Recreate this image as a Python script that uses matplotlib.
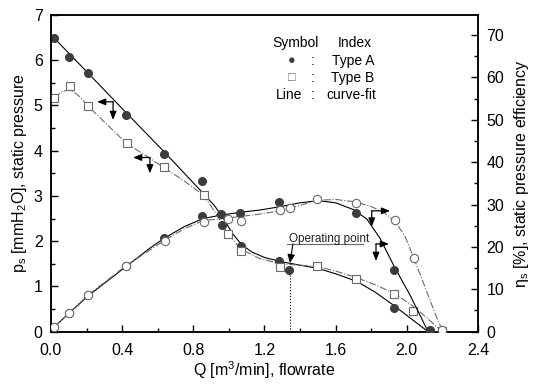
import matplotlib
matplotlib.use('Agg')
import matplotlib.pyplot as plt
from matplotlib.ticker import MultipleLocator

plt.rcParams['font.family'] = ['Liberation Sans', 'DejaVu Sans']
plt.rcParams['mathtext.default'] = 'regular'
plt.rcParams['font.size'] = 11

# measured points: static pressure [mmH2O]
qa_p = [0.019, 0.103, 0.21, 0.42, 0.635, 0.85, 0.96, 1.066, 1.283, 1.34, 1.926, 2.13]
pa = [6.50, 6.08, 5.71, 4.78, 3.92, 3.33, 2.36, 1.89, 1.57, 1.36, 0.52, 0.02]
qb_p = [0.019, 0.107, 0.21, 0.425, 0.637, 0.86, 0.993, 1.07, 1.287, 1.497, 1.714, 1.928, 2.037, 2.20]
pb = [5.17, 5.42, 4.99, 4.16, 3.65, 3.02, 2.16, 1.79, 1.44, 1.45, 1.16, 0.83, 0.46, 0.02]

# measured points: static pressure efficiency [%]
qa_e = [0.019, 0.103, 0.21, 0.42, 0.635, 0.85, 0.955, 1.062, 1.283, 1.714, 1.928, 2.13]
ea = [1.2, 4.3, 8.7, 15.5, 22.0, 27.4, 27.7, 27.9, 30.7, 27.9, 14.6, 0.4]
qb_e = [0.019, 0.103, 0.21, 0.42, 0.64, 0.86, 0.993, 1.07, 1.287, 1.343, 1.494, 1.714, 1.934, 2.04, 2.20]
eb = [1.2, 4.3, 8.7, 15.5, 21.5, 25.9, 26.5, 26.2, 28.7, 29.1, 31.2, 30.4, 26.3, 17.3, 0.3]

# curve-fit lines
fa_q = [0.02, 0.2, 0.42, 0.64, 0.85, 0.92, 0.97, 1.02, 1.072, 1.13, 1.2, 1.29, 1.4, 1.5, 1.6, 1.72, 1.82, 1.924, 2.02, 2.12]
fa_p = [6.48, 5.75, 4.85, 3.96, 3.08, 2.78, 2.50, 2.17, 1.92, 1.76, 1.64, 1.55, 1.47, 1.40, 1.28, 1.11, 0.88, 0.59, 0.30, 0.0]
fb_q = [0.02, 0.06, 0.107, 0.16, 0.21, 0.32, 0.425, 0.53, 0.637, 0.75, 0.856, 0.93, 0.988, 1.066, 1.17, 1.29, 1.4, 1.5, 1.6, 1.714, 1.82, 1.93, 2.04, 2.12, 2.2]
fb_p = [5.17, 5.30, 5.36, 5.20, 4.98, 4.56, 4.16, 3.90, 3.62, 3.33, 3.02, 2.60, 2.20, 1.83, 1.62, 1.50, 1.47, 1.44, 1.34, 1.20, 1.04, 0.85, 0.55, 0.28, 0.0]
fea_q = [0.02, 0.21, 0.42, 0.556, 0.635, 0.75, 0.856, 0.955, 1.07, 1.175, 1.29, 1.4, 1.503, 1.6, 1.7, 1.775, 1.85, 1.928, 2.02, 2.12]
fea_e = [1.2, 8.5, 15.3, 19.7, 22.0, 24.8, 26.7, 27.5, 28.2, 28.7, 29.5, 30.4, 30.9, 30.4, 28.8, 26.6, 22.0, 15.5, 8.5, 0.0]
feb_q = [0.02, 0.21, 0.42, 0.64, 0.75, 0.856, 0.99, 1.15, 1.29, 1.4, 1.5, 1.6, 1.714, 1.8, 1.87, 1.934, 1.99, 2.04, 2.08, 2.12, 2.16, 2.2]
feb_e = [1.2, 8.7, 15.5, 21.6, 24.3, 26.2, 26.8, 27.6, 28.5, 29.8, 31.0, 31.2, 30.6, 29.5, 28.2, 26.0, 22.5, 17.3, 13.0, 8.6, 4.2, 0.3]

fig = plt.figure(figsize=(5.34, 3.84), dpi=100)
ax = fig.add_axes([0.0955, 0.1362, 0.7995, 0.8248])
ax2 = ax.twinx()

dark = '#3c3c3c'
grey = '#6a6a6a'

ax.plot(fa_q, fa_p, '-', color='black', lw=0.8)
ax.plot(fb_q, fb_p, '-.', color=grey, lw=0.8)
ax.plot(qa_p, pa, 'o', color=dark, ms=5.5, zorder=4)
ax.plot(qb_p, pb, 's', mfc='white', mec=grey, mew=0.8, ms=5.5, zorder=4)

ax2.plot(fea_q, fea_e, '-', color='black', lw=0.8)
ax2.plot(feb_q, feb_e, '-.', color=grey, lw=0.8)
ax2.plot(qa_e, ea, 'o', color=dark, ms=5.5, zorder=4)
ax2.plot(qb_e, eb, 'o', mfc='white', mec=grey, mew=0.8, ms=6, zorder=5)

ax.set_xlim(0, 2.4)
ax.set_ylim(0, 7)
ax2.set_ylim(0, 74.7)
ax.xaxis.set_major_locator(MultipleLocator(0.4))
ax.xaxis.set_minor_locator(MultipleLocator(0.2))
ax.yaxis.set_major_locator(MultipleLocator(1))
ax.yaxis.set_minor_locator(MultipleLocator(0.5))
ax2.yaxis.set_major_locator(MultipleLocator(10))
ax2.yaxis.set_minor_locator(MultipleLocator(5))
ax.xaxis.set_major_formatter(plt.FuncFormatter(lambda v, p: '%.1f' % v))

for a in (ax, ax2):
    a.tick_params(which='major', direction='in', length=5, width=1, labelsize=11.5)
    a.tick_params(which='minor', direction='in', length=3, width=1)
    for s in a.spines.values():
        s.set_linewidth(1.1)
ax.tick_params(axis='both', which='both', top=False, right=False)
ax.tick_params(axis='y', pad=6)
ax.tick_params(axis='x', pad=8)
ax2.tick_params(axis='y', pad=6)

ax.set_xlabel('Q [m$^3$/min], flowrate', fontsize=11.5, labelpad=1)
ax.set_ylabel('p$_s$ [mmH$_2$O], static pressure', fontsize=11.5, labelpad=3)
ax2.set_ylabel('η$_s$ [%], static pressure efficiency', fontsize=11.5, labelpad=6)

# arrows pointing to the axis each curve belongs to
arw = dict(arrowstyle='-|>,head_length=1.0,head_width=0.4', color='black', lw=0.9,
           mutation_scale=5, shrinkA=0, shrinkB=0)
for cx, cy, lx, dy in [(0.349, 5.08, 0.259, 4.68), (0.556, 3.85, 0.461, 3.50)]:
    ax.annotate('', xy=(lx, cy), xytext=(cx, cy), arrowprops=arw)
    ax.annotate('', xy=(cx, dy), xytext=(cx, cy), arrowprops=arw)
for cx, cy, rx, dy in [(1.803, 28.5, 1.906, 24.8), (1.827, 20.7, 1.90, 16.7)]:
    ax2.annotate('', xy=(rx, cy), xytext=(cx, cy), arrowprops=arw)
    ax2.annotate('', xy=(cx, dy), xytext=(cx, cy), arrowprops=arw)

# operating point
ax.plot([1.343, 1.343], [0, 1.36], ':', color='black', lw=0.8)
ax.plot([1.327, 1.754], [1.94, 1.94], '-', color=grey, lw=0.8)
ax.text(1.338, 2.05, 'Operating point', fontsize=8.5, va='center', ha='left', color='#222222')
ax.annotate('', xy=(1.343, 1.52), xytext=(1.36, 1.94),
            arrowprops=dict(arrowstyle='-|>,head_length=1.0,head_width=0.45', color='black',
                            lw=0.8, mutation_scale=5, shrinkA=0, shrinkB=0))

# legend table
lt = dict(transform=fig.transFigure, fontsize=10, va='center')
W, H = 534.0, 384.0
fig.text(296 / W, 1 - 43 / H, 'Symbol', ha='center', **lt)
fig.text(355 / W, 1 - 43 / H, 'Index', ha='center', **lt)
fig.text(291.7 / W, 1 - 61 / H, '●', ha='center', fontsize=9, color=dark, va='center', transform=fig.transFigure)
fig.text(291.7 / W, 1 - 78 / H, '□', ha='center', fontsize=9, color=grey, va='center', transform=fig.transFigure)
fig.text(313 / W, 1 - 61 / H, ':', ha='center', **lt)
fig.text(313 / W, 1 - 78 / H, ':', ha='center', **lt)
fig.text(313 / W, 1 - 95 / H, ':', ha='center', **lt)
fig.text(353 / W, 1 - 61 / H, 'Type A', ha='center', **lt)
fig.text(353 / W, 1 - 78 / H, 'Type B', ha='center', **lt)
fig.text(289.5 / W, 1 - 95 / H, 'Line', ha='center', **lt)
fig.text(351.5 / W, 1 - 95 / H, 'curve-fit', ha='center', **lt)

fig.savefig('out.png', dpi=100)
